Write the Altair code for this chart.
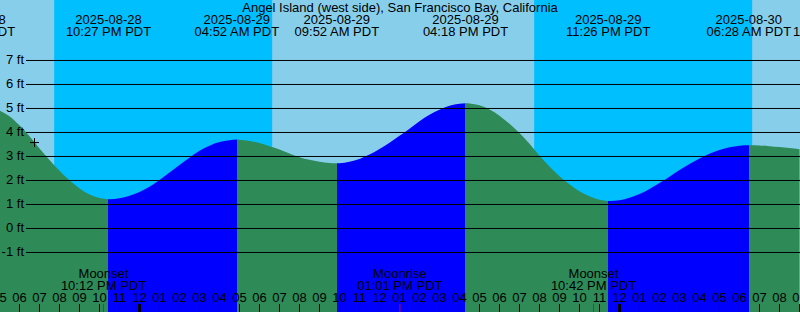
import altair as alt
import pandas as pd

TITLE = "Angel Island (west side), San Francisco Bay, California"
REF = pd.Timestamp("2025-08-29 00:00")

# Tide height readings (ft), every 30 minutes from 2025-08-28 17:00
sample_start = "2025-08-28 17:00"
tide_ft = [4.92, 4.68, 4.30, 3.84, 3.33, 2.85, 2.41, 2.01, 1.67, 1.42, 1.27, 1.22,
           1.26, 1.36, 1.52, 1.74, 2.02, 2.33, 2.65, 2.95, 3.24, 3.45, 3.60, 3.68, 3.70,
           3.65, 3.56, 3.43, 3.29, 3.12, 2.97, 2.86, 2.78, 2.73, 2.72,
           2.78, 2.90, 3.08, 3.31, 3.57, 3.86, 4.16, 4.47, 4.74, 4.95, 5.11, 5.20, 5.21,
           5.13, 4.96, 4.70, 4.36, 3.98, 3.53, 3.03, 2.58, 2.18, 1.84, 1.55, 1.34, 1.20, 1.15,
           1.18, 1.28, 1.44, 1.65, 1.90, 2.16, 2.44, 2.69, 2.92, 3.11, 3.27, 3.38, 3.45, 3.47,
           3.46, 3.43, 3.39, 3.35, 3.30]

# High / low tide events
event_times = ["2025-08-28 15:39", "2025-08-28 22:27", "2025-08-29 04:52", "2025-08-29 09:52",
               "2025-08-29 16:18", "2025-08-29 23:26", "2025-08-30 06:28", "2025-08-30 10:47"]
event_ft = [5.30, 1.22, 3.71, 2.72, 5.22, 1.15, 3.47, 3.20]
event_kind = ["High", "Low", "High", "Low", "High", "Low", "High", "Low"]

# Moon events
moon_times = ["2025-08-28 22:12", "2025-08-29 13:01", "2025-08-29 22:42"]
moon_names = ["Moonset", "Moonrise", "Moonset"]

# Sun
sunset_times = ["2025-08-28 19:44", "2025-08-29 19:44"]
sunrise_times = ["2025-08-29 06:38", "2025-08-30 06:38"]

# current-time marker
now_time = "2025-08-28 18:45"
now_ft = 3.58

levels_ft = [-1, 0, 1, 2, 3, 4, 5, 6, 7]
hour_start, hour_end = "2025-08-28 17:00", "2025-08-30 09:00"
x_domain = [-6.975, 33.025]
y_domain = [-3.48, 9.52]

FONT = "Liberation Sans"
FS = 13
DAY, NIGHT = "#87CEEB", "#00BFFF"
GREEN, BLUE = "#2E8B57", "#0000FF"


def hrs(ts):
    return [float((pd.Timestamp(t) - REF) / pd.Timedelta(hours=1)) for t in ts]


xs = alt.Scale(domain=x_domain, nice=False, zero=False)
ys = alt.Scale(domain=y_domain, nice=False, zero=False)


def X(field="t"):
    return alt.X(f"{field}:Q", scale=xs, axis=None)


def Y(field="ft"):
    return alt.Y(f"{field}:Q", scale=ys, axis=None)


# ---- curve data
stimes = pd.date_range(sample_start, periods=len(tide_ft), freq="30min")
curve = pd.DataFrame({"t": hrs(stimes), "ft": tide_ft})
ev = pd.DataFrame({"time": pd.to_datetime(event_times), "ft": event_ft, "kind": event_kind})
ev["t"] = hrs(ev["time"])
t0, t1 = curve.t.min(), curve.t.max()
inr = ev[(ev.t > t0) & (ev.t < t1)]
curve = pd.concat([curve, inr[["t", "ft"]]]).drop_duplicates("t").sort_values("t")

# gradient colouring: rising = blue, falling = green
c = GREEN if inr.iloc[0]["kind"] == "Low" else BLUE
stops = [alt.GradientStop(offset=0, color=c)]
for _, r in inr.iterrows():
    off = float((r.t - t0) / (t1 - t0))
    stops.append(alt.GradientStop(offset=off, color=c))
    c = BLUE if r.kind == "Low" else GREEN
    stops.append(alt.GradientStop(offset=off, color=c))
stops.append(alt.GradientStop(offset=1, color=c))
grad = alt.Gradient(gradient="linear", stops=stops, x1=0, x2=1, y1=0, y2=0)

night = pd.DataFrame({"t": hrs(sunset_times), "t2": hrs(sunrise_times)})
night_layer = alt.Chart(night).mark_rect(color=NIGHT).encode(
    x=X("t"), x2="t2", y=alt.value(0), y2=alt.value(312))

area = alt.Chart(curve).mark_area(interpolate="monotone", color=grad).encode(
    x=X(), y=Y(), y2=alt.datum(y_domain[0]))

lv = pd.DataFrame({"ft": levels_ft, "label": [f"{v} ft" for v in levels_ft]})
hlines = alt.Chart(lv).mark_rule(color="black", strokeWidth=1).encode(
    y=Y(), x=alt.value(26), x2=alt.value(800))
hlabels = alt.Chart(lv).mark_text(align="right", baseline="middle", font=FONT, fontSize=FS,
                                  color="black", dy=-0.5).encode(
    y=Y(), x=alt.value(24), text="label:N")

hours = pd.date_range(hour_start, hour_end, freq="h")
hdf = pd.DataFrame({"t": hrs(hours), "hour": hours.hour, "label": hours.strftime("%I")})
hticks = alt.Chart(hdf).mark_rule(color="black").encode(
    x=X(), y=alt.value(304), y2=alt.value(312),
    strokeWidth=alt.condition("datum.hour == 0", alt.value(3), alt.value(1)))
htext = alt.Chart(hdf).mark_text(baseline="middle", font=FONT, fontSize=FS, color="black").encode(
    x=X(), y=alt.value(297.5), text="label:N")

mt = pd.to_datetime(moon_times)
mdf = pd.DataFrame({"t": hrs(mt), "name": moon_names, "time": mt.strftime("%I:%M %p PDT")})
mticks = alt.Chart(mdf).mark_rule(color="#FF0000", strokeWidth=1).encode(
    x=X(), y=alt.value(304), y2=alt.value(312))
mname = alt.Chart(mdf).mark_text(baseline="middle", font=FONT, fontSize=FS, color="black").encode(
    x=X(), y=alt.value(274), text="name:N")
mtime = alt.Chart(mdf).mark_text(baseline="middle", font=FONT, fontSize=FS, color="black").encode(
    x=X(), y=alt.value(286), text="time:N")

edf = pd.DataFrame({"t": ev["t"], "date": ev["time"].dt.strftime("%Y-%m-%d"),
                    "time": ev["time"].dt.strftime("%I:%M %p PDT")})
edate = alt.Chart(edf).mark_text(baseline="middle", font=FONT, fontSize=FS, color="black").encode(
    x=X(), y=alt.value(19.5), text="date:N")
etime = alt.Chart(edf).mark_text(baseline="middle", font=FONT, fontSize=FS, color="black").encode(
    x=X(), y=alt.value(31.5), text="time:N")

title = alt.Chart(pd.DataFrame({"title": [TITLE]})).mark_text(
    baseline="middle", font=FONT, fontSize=FS, color="black").encode(
    x=alt.value(400), y=alt.value(7.5), text="title:N")

now = pd.DataFrame({"t": hrs([now_time]), "ft": [now_ft]})
nowmark = alt.Chart(now).mark_point(shape="M-1,0L1,0M0,-1L0,1", size=81, filled=False,
                                    stroke="black", strokeWidth=1, opacity=1).encode(
    x=X(), y=Y())

chart = alt.layer(night_layer, area, hlines, hlabels, hticks, mticks, htext, mname, mtime,
                  edate, etime, title, nowmark).properties(
    width=800, height=312, autosize=alt.AutoSizeParams(type="none"), padding=0,
    background=DAY).configure_view(stroke=None)

chart.save("out.html", embed_options={"renderer": "svg", "actions": False})
